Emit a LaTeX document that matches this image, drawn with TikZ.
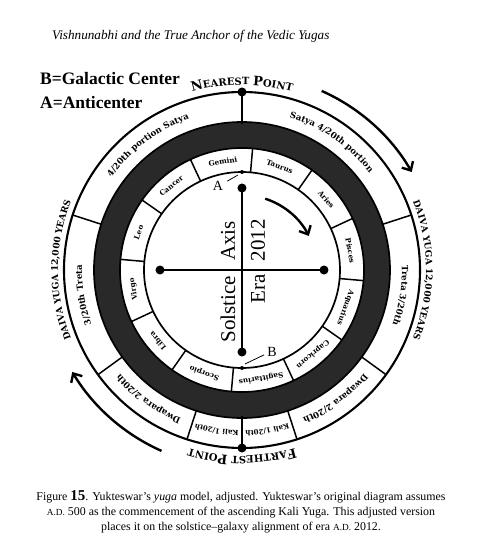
\documentclass[tikz,border=0pt]{standalone}
\usepackage{fontspec}
\setmainfont{Liberation Serif}
\newfontfamily\dvs{DejaVu Serif}
\usetikzlibrary{decorations.text,arrows.meta,calc}
\begin{document}
\begin{tikzpicture}[x=1pt,y=1pt,
  ringline/.style={line width=1.7pt},
  outerring/.style={line width=2.1pt},
  divider/.style={line width=1.5pt},
  axisline/.style={line width=2.4pt},
  bigdot/.style={circle,fill=black,inner sep=0pt,minimum size=9pt},
  smalldot/.style={circle,fill=black,inner sep=0pt,minimum size=4pt},
  zod/.style={font=\dvs\bfseries\fontsize{7.2}{8}\selectfont, inner sep=0pt},
  axtext/.style={rotate=90, font=\fontsize{21}{24}\selectfont, inner sep=0pt},
  flow/.style={line width=2.4pt, -{Straight Barb[length=7pt,width=13pt,line width=2.4pt]}},
  bandtxt/.style={decorate, decoration={text along path, text align=center,
      text={|\dvs\bfseries\fontsize{8.6}{10}\selectfont|#1}}},
  kalitxt/.style={decorate, decoration={text along path, text align=center,
      text={|\dvs\bfseries\fontsize{7}{8}\selectfont|#1}}},
  bigtxt/.style={decorate, decoration={text along path, text align=center,
      text={|\dvs\bfseries\fontsize{9}{10}\selectfont|#1}}},
]
\useasboundingbox (-242,-290) rectangle (258,270);

% header and legend
\node[anchor=west, font=\itshape\fontsize{13.2}{15}\selectfont, inner sep=0pt] (hdr) at (-190,234)
  {Vishnunabhi and the True Anchor of the Vedic Yugas};
\node[anchor=base west, font=\bfseries\fontsize{17.5}{20}\selectfont, inner sep=0pt] (legB) at (-202,185) {B=Galactic Center};
\node[anchor=base west, font=\bfseries\fontsize{17.5}{20}\selectfont, inner sep=0pt] (legA) at (-202,161) {A=Anticenter};

% dark band
\fill[black!84, even odd rule] (0,0) circle[radius=148pt] (0,0) circle[radius=122pt];

% rings
\draw[outerring] (0,0) circle[radius=178pt];
\draw[ringline] (0,0) circle[radius=148pt];
\draw[ringline] (0,0) circle[radius=122pt];
\draw[ringline] (0,0) circle[radius=98pt];

% yuga dividers
\foreach \a in {18,-36,-72,-108,-144,162} \draw[divider] (\a:148pt) -- (\a:178pt);
% zodiac dividers
\foreach \a in {85,55,25,-5,-35,-65,-95,-125,-155,175,145,115} \draw[divider] (\a:98pt) -- (\a:122pt);

% nearest / farthest points
\node[bigdot] (np) at (90:178pt) {};
\node[bigdot] (fp) at (-90:178pt) {};
\coordinate (npIn) at (90:146pt);
\coordinate (fpIn) at (-90:146pt);
\draw[axisline] (np.center) -- (npIn);
\draw[axisline] (fp.center) -- (fpIn);

% zodiac labels
\foreach \a/\n [count=\i] in {100/Gemini,70/Taurus,40/Aries,10/Pisces,-20/Aquarius,-50/Capricorn,
  -80/Sagittarius,-110/Scorpio,-140/Libra,-170/Virgo,160/Leo,130/Cancer}
  \node[zod, rotate=\a-90] (z\i) at (\a:110pt) {\n};

% yuga band labels
\path[bandtxt={4/20th portion Satya}] (187:160pt) arc[start angle=187, end angle=67, radius=160pt];
\path[bandtxt={Satya 4/20th portion}] (115:160pt) arc[start angle=115, end angle=-5, radius=160pt];
\path[bandtxt={Treta 3/20th}] (51:160pt) arc[start angle=51, end angle=-69, radius=160pt];
\path[bandtxt={Dwapara 2/20th}] (6:160pt) arc[start angle=6, end angle=-114, radius=160pt];
\path[kalitxt={Kali 1/20th}] (-21:160.5pt) arc[start angle=-21, end angle=-141, radius=160.5pt];
\path[kalitxt={Kali 1/20th}] (-39:160.5pt) arc[start angle=-39, end angle=-159, radius=160.5pt];
\path[bandtxt={Dwapara 2/20th}] (-66:160pt) arc[start angle=-66, end angle=-186, radius=160pt];
\path[bandtxt={3/20th Treta}] (249:160pt) arc[start angle=249, end angle=129, radius=160pt];

% outer labels
\path[decorate, decoration={text along path, text align=center,
  text={|\dvs\bfseries\fontsize{13}{14}\selectfont|N|\dvs\bfseries\fontsize{10}{12}\selectfont|EAREST |\dvs\bfseries\fontsize{13}{14}\selectfont|P|\dvs\bfseries\fontsize{10}{12}\selectfont|OINT}}]
  (150:185pt) arc[start angle=150, end angle=30, radius=185pt];
\path[decorate, decoration={text along path, text align=center,
  text={|\dvs\bfseries\fontsize{13}{14}\selectfont|F|\dvs\bfseries\fontsize{10}{12}\selectfont|ARTHEST |\dvs\bfseries\fontsize{13}{14}\selectfont|P|\dvs\bfseries\fontsize{10}{12}\selectfont|OINT}}]
  (-30:186pt) arc[start angle=-30, end angle=-150, radius=186pt];
\path[bigtxt={DAIVA YUGA 12,000 YEARS}] (60:184pt) arc[start angle=60, end angle=-60, radius=184pt];
\path[bigtxt={DAIVA YUGA 12,000 YEARS}] (240:184pt) arc[start angle=240, end angle=120, radius=184pt];

% outer arrows
\draw[flow] (66:196pt) arc[start angle=66, end angle=30, radius=196pt];
\draw[flow] (246:198pt) arc[start angle=246, end angle=211, radius=198pt];

% axes
\node[bigdot] (axT) at (0,82) {};
\node[bigdot] (axB) at (0,-82) {};
\node[bigdot] (axL) at (-82,0) {};
\node[bigdot] (axR) at (82,0) {};
\draw[axisline] (axT.center) -- (axB.center);
\draw[axisline] (axL.center) -- (axR.center);
\node[smalldot] (dA) at (90:98pt) {};
\node[smalldot] (dB) at (-90:98pt) {};

% inner arrow
\draw[flow] (72:75pt) arc[start angle=72, end angle=27, radius=75pt];

% axis texts
\node[axtext] (sol) at (-14,-39) {Solstice};
\node[axtext] (axs) at (-14,29) {Axis};
\node[axtext] (era) at (16,-19) {Era};
\node[axtext] (yr) at (16,30) {2012};

% A and B labels
\node[font=\fontsize{14}{16}\selectfont, inner sep=0pt] (labA) at (-24,84) {A};
\coordinate (aTip) at (-4,95);
\draw[line width=0.8pt] ([xshift=4pt]labA.north east) -- (aTip);
\node[font=\fontsize{14}{16}\selectfont, inner sep=0pt] (labB) at (30,-82) {B};
\coordinate (bTip) at (3,-94);
\draw[line width=0.8pt] ([xshift=-3pt,yshift=2pt]labB.south west) -- (bTip);

% caption
\node[align=center, font=\fontsize{11.9}{15}\selectfont, inner sep=0pt] (cap) at (-1,-242)
  {Figure {\bfseries\fontsize{15}{15}\selectfont 15}. Yukteswar's \textit{yuga} model, adjusted. Yukteswar's original diagram assumes\\
   {\fontsize{9.3}{10}\selectfont A.D.} 500 as the commencement of the ascending Kali Yuga. This adjusted version\\
   places it on the solstice--galaxy alignment of era {\fontsize{9.3}{10}\selectfont A.D.} 2012.};
\end{tikzpicture}
\end{document}
